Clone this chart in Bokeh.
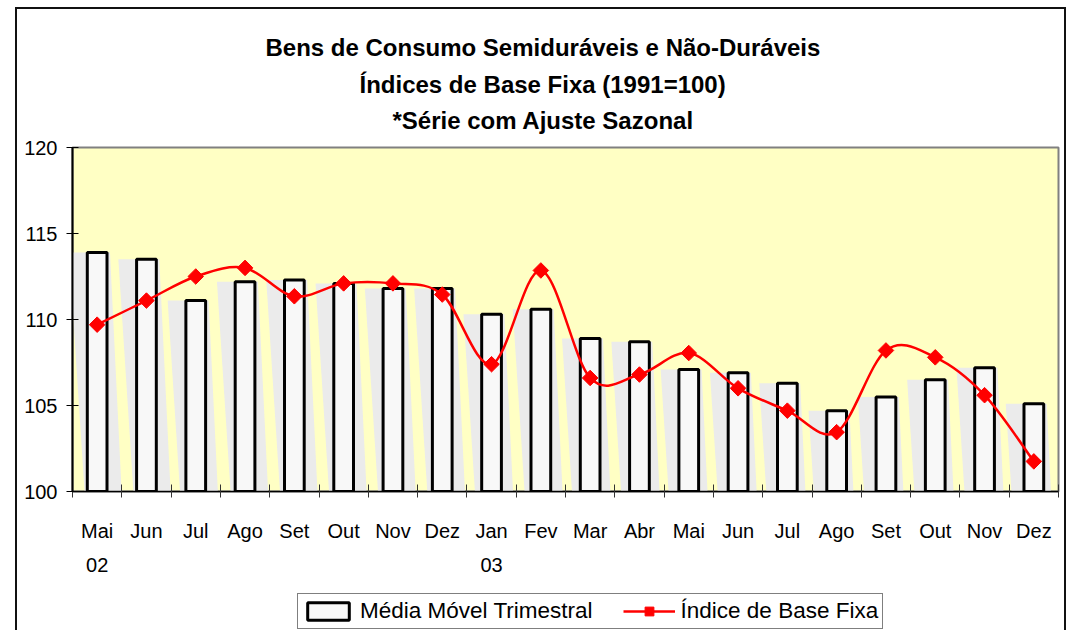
import numpy as np
from bokeh.plotting import figure
from bokeh.layouts import column
from bokeh.models import Range1d, FixedTicker, Legend, LegendItem, Title, LinearAxis
from bokeh.embed import file_html
from bokeh.resources import INLINE

# ---------------- data ----------------
months = ["Mai", "Jun", "Jul", "Ago", "Set", "Out", "Nov", "Dez", "Jan", "Fev",
          "Mar", "Abr", "Mai", "Jun", "Jul", "Ago", "Set", "Out", "Nov", "Dez"]
years = ["02", "", "", "", "", "", "", "", "03", "", "", "", "", "", "", "", "", "", "", ""]
media_movel = [113.9, 113.5, 111.1, 112.2, 112.3, 112.1, 111.8, 111.8, 110.3, 110.6,
               108.9, 108.7, 107.1, 106.9, 106.3, 104.7, 105.5, 106.5, 107.2, 105.1]
indice_base = [109.7, 111.1, 112.5, 113.0, 111.35, 112.1, 112.1, 111.45, 107.4, 112.85,
               106.6, 106.8, 108.05, 106.0, 104.7, 103.45, 108.2, 107.8, 105.6, 101.75]
title_lines = ["Bens de Consumo Semiduráveis e Não-Duráveis",
               "Índices de Base Fixa (1991=100)",
               "*Série com Ajuste Sazonal"]
y_ticks = [100, 105, 110, 115, 120]
series_names = ["Média Móvel Trimestral", "Índice de Base Fixa"]

FONT = "Liberation Sans"
BORDER = "2px solid #111111"
n = len(months)
xi = np.arange(n, dtype=float)
mm = np.array(media_movel)
ib = np.array(indice_base)

p = figure(width=1051, height=571,
           x_range=Range1d(-0.5, n - 0.5), y_range=Range1d(100, 120),
           output_backend="svg", toolbar_location=None,
           min_border_left=55, min_border_right=10,
           min_border_top=138, min_border_bottom=89)
p.styles = {"border-left": BORDER, "border-right": BORDER, "border-top": BORDER}

p.background_fill_color = "#FFFFC4"
p.border_fill_color = "white"
p.outline_line_color = "#808080"
p.outline_line_width = 2
p.grid.visible = False

# shadow shapes behind bars (Excel-like fill artefact)
h = mm - 100
sx = [[i - 0.57, i + 0.26, i + 0.26 + 0.017 * hh, i - 0.57 + 0.0226 * hh]
      for i, hh in zip(xi, h)]
sy = [[v, v, 100, 100] for v in mm]
p.patches(sx, sy, fill_color="#EBEBEB", line_color=None)

BAR_STYLE = dict(fill_color="#F8F8F8", line_color="black", line_width=3)
LINE_STYLE = dict(line_color="#FF0000", line_width=2.5)
MARK_STYLE = dict(marker="square", angle=np.pi / 4, fill_color="#FF0000",
                  line_color="#FF0000")

p.vbar(x=xi, top=mm, bottom=100, width=0.4, **BAR_STYLE)

# smoothed line (Excel-style Catmull-Rom bezier through the points)
prev_y = np.concatenate([[ib[0]], ib[:-2]])
next_y = np.concatenate([ib[2:], [ib[-1]]])
prev_x = np.concatenate([[xi[0]], xi[:-2]])
next_x = np.concatenate([xi[2:], [xi[-1]]])
x0, y0 = xi[:-1], ib[:-1]
x1, y1 = xi[1:], ib[1:]
cx0 = x0 + (x1 - prev_x) / 6.0
cy0 = y0 + (y1 - prev_y) / 6.0
cx1 = x1 - (next_x - x0) / 6.0
cy1 = y1 - (next_y - y0) / 6.0
p.bezier(x0=x0, y0=y0, x1=x1, y1=y1, cx0=cx0, cy0=cy0, cx1=cx1, cy1=cy1, **LINE_STYLE)
p.scatter(xi, ib, size=11, **MARK_STYLE)

# axes
xa = p.xaxis[0]
xa.ticker = FixedTicker(ticks=list(xi), minor_ticks=list(np.arange(n + 1) - 0.5))
xa.major_label_overrides = {int(i): m for i, m in enumerate(months)}
xa.major_tick_line_color = None
xa.major_tick_in = 0
xa.major_tick_out = 6
xa.minor_tick_line_color = "#333333"
xa.minor_tick_in = 7
xa.minor_tick_out = 6
xa.axis_line_color = "black"
xa.axis_line_width = 1.5
xa.major_label_standoff = 22
xa.major_label_text_font = FONT
xa.major_label_text_font_size = "20px"
xa.major_label_text_color = "black"

# second row of x labels: the years
year_idx = [i for i, y in enumerate(years) if y]
ax2 = LinearAxis(ticker=FixedTicker(ticks=year_idx, minor_ticks=[]),
                 major_label_overrides={i: years[i] for i in year_idx},
                 axis_line_color=None, major_tick_line_color=None,
                 minor_tick_line_color=None, major_tick_in=0, major_tick_out=0,
                 major_label_standoff=13, major_label_text_font=FONT,
                 major_label_text_font_size="20px", major_label_text_color="black")
p.add_layout(ax2, "below")

ya = p.yaxis[0]
ya.ticker = FixedTicker(ticks=y_ticks)
ya.major_tick_in = 6
ya.major_tick_out = 6
ya.major_tick_line_color = "black"
ya.minor_tick_line_color = None
ya.axis_line_color = "black"
ya.axis_line_width = 2
ya.major_label_standoff = 9
ya.major_label_text_font = FONT
ya.major_label_text_font_size = "20px"
ya.major_label_text_color = "black"

# titles (first added sits nearest the plot); left-aligned with offsets so
# that the block is centred on the whole chart like the original
title_offsets = [193, 287, 320]
title_standoffs = [30, -14, 28]
for line, off, so in reversed(list(zip(title_lines, title_offsets, title_standoffs))):
    p.add_layout(Title(text=line, align="left", offset=off, standoff=so,
                       text_font=FONT, text_font_style="bold",
                       text_font_size="24px", text_color="black"), "above")

# ---------------- legend strip (separate canvas under the chart) ----------------
# the same series are attached here as hidden renderers: only their legend
# swatches are shown
lp = figure(width=1051, height=52, x_range=Range1d(0, 1), y_range=Range1d(0, 1),
            x_axis_type=None, y_axis_type=None, output_backend="svg",
            toolbar_location=None, min_border=0)
lp.styles = {"border-left": BORDER, "border-right": BORDER}
lp.outline_line_color = None
lp.grid.visible = False
lp.background_fill_color = "white"
lp.border_fill_color = "white"
r_bar = lp.vbar(x=xi, top=mm, bottom=100, width=0.4, visible=False, **BAR_STYLE)
r_line = lp.line(x=xi, y=ib, visible=False, **LINE_STYLE)
r_mark = lp.scatter(x=xi, y=ib, size=11, visible=False, **MARK_STYLE)

legend = Legend(items=[LegendItem(label=series_names[0], renderers=[r_bar]),
                       LegendItem(label=series_names[1], renderers=[r_line, r_mark])],
                location=(225, 1), orientation="horizontal",
                border_line_color="black", border_line_width=1,
                background_fill_color="white", background_fill_alpha=1,
                inactive_fill_alpha=0,
                padding=4, margin=0, spacing=30, glyph_width=52, glyph_height=22,
                label_standoff=6, label_text_font=FONT, label_text_font_size="22.5px",
                label_text_color="black")
lp.add_layout(legend)

layout = column(p, lp, spacing=0)
layout.margin = (7, 0, 0, 15)

open("out.html", "w").write(file_html(layout, INLINE))
